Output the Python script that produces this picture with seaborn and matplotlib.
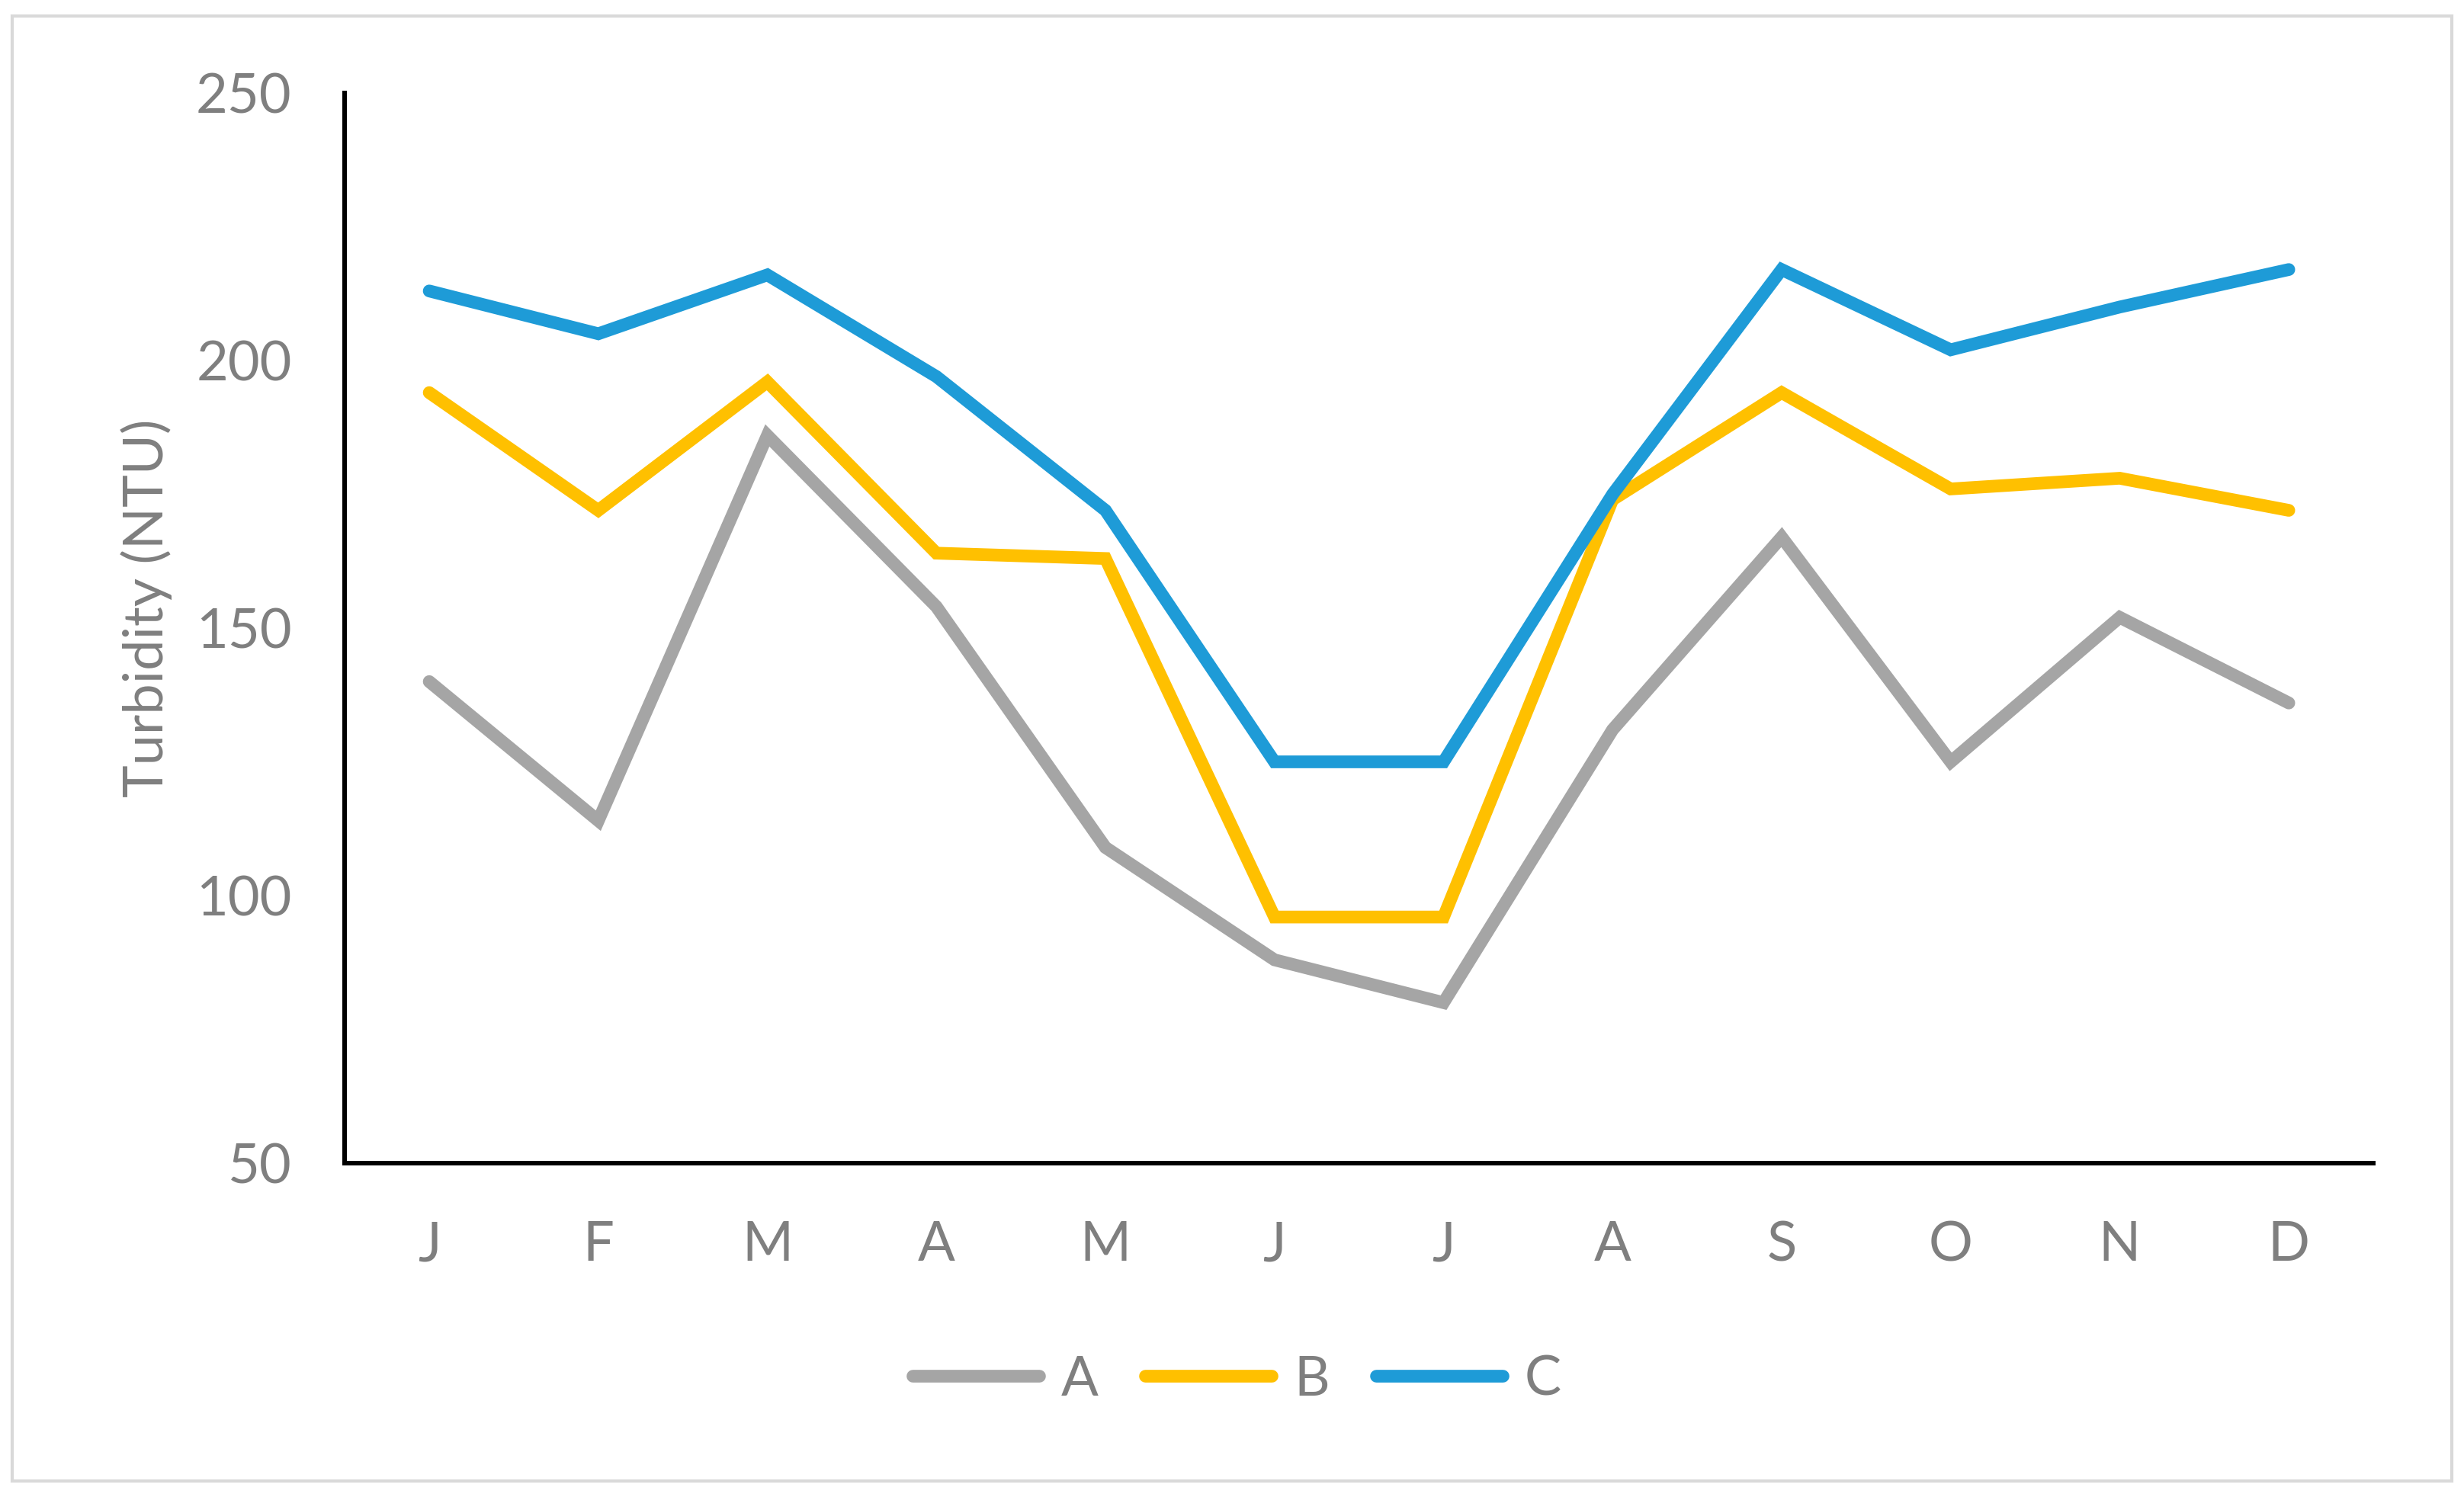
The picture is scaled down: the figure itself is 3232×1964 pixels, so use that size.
import numpy as np
import pandas as pd
import matplotlib
matplotlib.use("Agg")
import matplotlib.pyplot as plt
from matplotlib.patches import Rectangle
import seaborn as sns

# ===== Data =====
months = ["J", "F", "M", "A", "M", "J", "J", "A", "S", "O", "N", "D"]
series_a = [140, 114, 186, 154, 109, 88, 80, 131, 167, 125, 152, 136]
series_b = [194, 172, 196, 164, 163, 96, 96, 174, 194, 176, 178, 172]
series_c = [213, 205, 216, 197, 172, 125, 125, 175, 217, 202, 210, 217]
yticks = [50, 100, 150, 200, 250]

df = pd.DataFrame({
    "idx": list(range(len(months))) * 3,
    "value": series_a + series_b + series_c,
    "site": ["A"] * 12 + ["B"] * 12 + ["C"] * 12,
})

palette = {"A": "#A5A5A5", "B": "#FFC000", "C": "#1E9BD7"}
text_grey = "#7F7F7F"
fsize = 52

# ===== Style =====
sns.set_style("white")
plt.rcParams["font.family"] = ["Lato", "DejaVu Sans"]

fig = plt.figure(figsize=(32.32, 19.64), dpi=100)
ax = fig.add_axes([0.1399, 0.223, 0.8233, 0.7149])

sns.lineplot(data=df, x="idx", y="value", hue="site", palette=palette,
             sort=False, ax=ax, legend=True)
for ln in ax.get_lines():
    ln.set_linewidth(12)
    ln.set_solid_capstyle("round")
    ln.set_solid_joinstyle("miter")

ax.set_xlim(-0.5, len(months) - 0.5)
ax.set_ylim(50, 250)
ax.set_xticks(range(len(months)))
ax.set_xticklabels(months)
ax.set_yticks(yticks)
ax.tick_params(axis="both", length=0, labelsize=fsize, labelcolor=text_grey)
ax.tick_params(axis="x", pad=54)
ax.tick_params(axis="y", pad=50)
ax.set_xlabel("")
ax.set_ylabel("Turbidity (NTU)", fontsize=fsize, color=text_grey)
ax.yaxis.set_label_coords(-0.085, 0.519)

sns.despine(ax=ax)
for side in ["left", "bottom"]:
    ax.spines[side].set_color("black")
    ax.spines[side].set_linewidth(4.3)

handles, labels = ax.get_legend_handles_labels()
leg = ax.legend(handles, labels, loc="center", bbox_to_anchor=(0.502, 0.0784),
                bbox_transform=fig.transFigure, ncol=3, frameon=False,
                fontsize=fsize, handlelength=2.3, columnspacing=0.85, handletextpad=0.4)
for t in leg.get_texts():
    t.set_color(text_grey)
for h in leg.get_lines():
    h.set_linewidth(12)
    h.set_solid_capstyle("round")

# light grey frame around the whole chart
fig.patches.append(Rectangle((0.005, 0.0105), 0.99, 0.979, transform=fig.transFigure,
                             fill=False, edgecolor="#D9D9D9", linewidth=3))

fig.savefig("out.png", dpi=100, facecolor="white")
